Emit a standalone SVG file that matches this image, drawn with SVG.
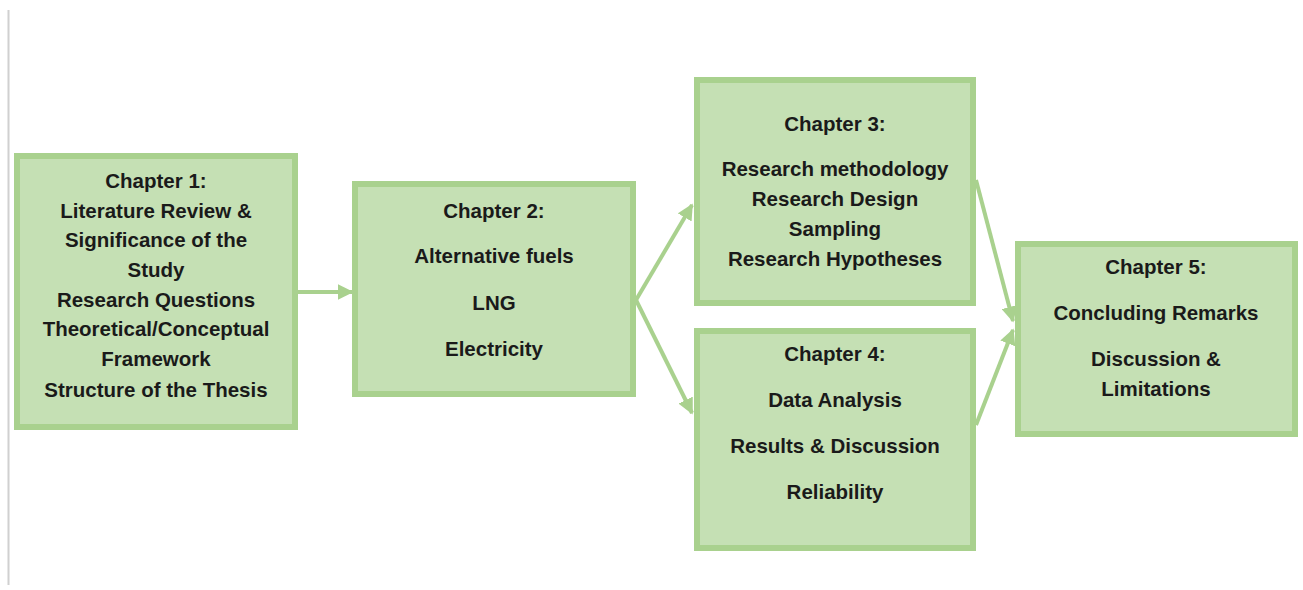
<svg xmlns="http://www.w3.org/2000/svg" width="1303" height="590" viewBox="0 0 1303 590">
<style>
.box{fill:#c5e0b4;stroke:#a9d18e;stroke-width:6}
.t{font-family:"Liberation Sans",Arial,sans-serif;font-weight:bold;font-size:20.5px;fill:#1a1a1a;text-anchor:middle}
.c{stroke:#a9d18e;stroke-width:4;fill:none}
</style>
<defs>
<marker id="ah" viewBox="0 0 10 10" refX="9" refY="5" markerWidth="4" markerHeight="4" orient="auto" markerUnits="strokeWidth">
<path d="M0,0 L10,5 L0,10 z" fill="#a9d18e"/>
</marker>
</defs>
<rect width="1303" height="590" fill="#fff"/>
<line x1="8.5" y1="10" x2="8.5" y2="585" stroke="#d0d0d0" stroke-width="2"/>
<g id="connectors">
<line class="c" x1="298" y1="292" x2="352" y2="292" marker-end="url(#ah)"/>
<line class="c" x1="636" y1="300" x2="692" y2="205" marker-end="url(#ah)"/>
<line class="c" x1="636" y1="300" x2="692" y2="413" marker-end="url(#ah)"/>
<line class="c" x1="976" y1="180" x2="1013" y2="321" marker-end="url(#ah)"/>
<line class="c" x1="976" y1="425" x2="1013" y2="330" marker-end="url(#ah)"/>
</g>
<g id="ch1">
<rect class="box" x="17" y="156" width="278" height="271"/>
<text class="t" x="156" y="188">Chapter 1:</text>
<text class="t" x="156" y="218">Literature Review &amp;</text>
<text class="t" x="156" y="247">Significance of the</text>
<text class="t" x="156" y="277">Study</text>
<text class="t" x="156" y="307">Research Questions</text>
<text class="t" x="156" y="336">Theoretical/Conceptual</text>
<text class="t" x="156" y="366">Framework</text>
<text class="t" x="156" y="397">Structure of the Thesis</text>
</g>
<g id="ch2">
<rect class="box" x="355" y="184" width="278" height="210"/>
<text class="t" x="494" y="218">Chapter 2:</text>
<text class="t" x="494" y="263">Alternative fuels</text>
<text class="t" x="494" y="310">LNG</text>
<text class="t" x="494" y="356">Electricity</text>
</g>
<g id="ch3">
<rect class="box" x="697" y="80" width="276" height="223"/>
<text class="t" x="835" y="131">Chapter 3:</text>
<text class="t" x="835" y="176">Research methodology</text>
<text class="t" x="835" y="206">Research Design</text>
<text class="t" x="835" y="236">Sampling</text>
<text class="t" x="835" y="266">Research Hypotheses</text>
</g>
<g id="ch4">
<rect class="box" x="697" y="331" width="276" height="217"/>
<text class="t" x="835" y="361">Chapter 4:</text>
<text class="t" x="835" y="407">Data Analysis</text>
<text class="t" x="835" y="453">Results &amp; Discussion</text>
<text class="t" x="835" y="499">Reliability</text>
</g>
<g id="ch5">
<rect class="box" x="1018" y="244" width="277" height="190"/>
<text class="t" x="1156" y="274">Chapter 5:</text>
<text class="t" x="1156" y="320">Concluding Remarks</text>
<text class="t" x="1156" y="366">Discussion &amp;</text>
<text class="t" x="1156" y="396">Limitations</text>
</g>
</svg>
